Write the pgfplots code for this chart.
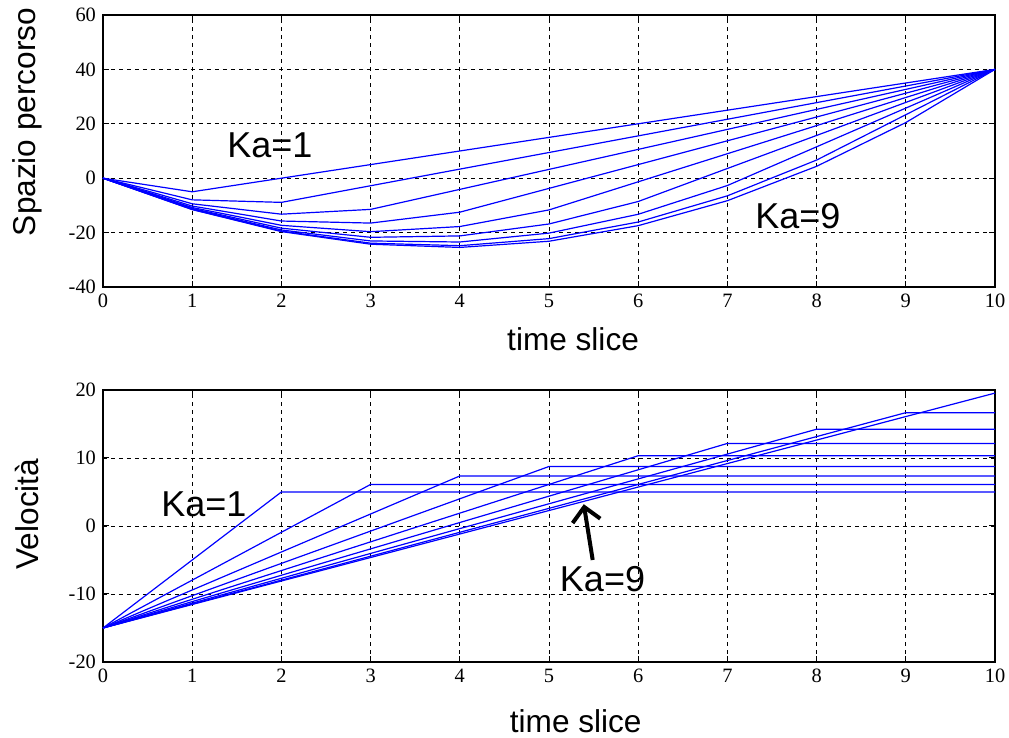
\documentclass[border=0pt]{standalone}
\usepackage{pgfplots}
\pgfplotsset{compat=1.18}
\usepackage{fontspec}
\setmainfont{Liberation Serif}
\newfontfamily\arial{Liberation Sans}
\usetikzlibrary{arrows.meta}

\tikzset{ka/.style={font=\arial\fontsize{18}{20}\selectfont, anchor=base, inner sep=0pt}}

\pgfplotsset{
  mplot/.style={
    scale only axis, width=446pt, height=136pt,
    xmin=0, xmax=10, xtick={0,1,...,10},
    grid=major,
    major grid style={black, dash pattern=on 2pt off 2pt, line width=0.45pt},
    axis line style={black, line width=0.75pt},
    tick align=inside, major tick length=3pt,
    tick style={black, line width=0.5pt},
    tick label style={font=\fontsize{10.2}{11}\selectfont},
    /pgf/number format/assume math mode=true,
    label style={font=\arial\fontsize{15.8}{18}\selectfont},
    every axis plot post/.append style={blue, solid, mark=none, line width=0.6pt},
  },
}

\begin{document}
\begin{tikzpicture}
\useasboundingbox (0,0) rectangle (504.5pt,369pt);

% position
\begin{axis}[mplot,
  at={(51.5pt,225.5pt)}, anchor=south west,
  ymin=-40, ymax=60, ytick={-40,-20,...,60},
  xlabel={time slice}, ylabel={Spazio percorso},
  xlabel style={at={(axis description cs:0.527,-0.232)}, anchor=base},
  ylabel style={at={(axis description cs:-0.085,0.607)}, anchor=center},
]
\addplot coordinates {(0,0)(1,-5)(2,0)(3,5)(4,10)(5,15)(6,20)(7,25)(8,30)(9,35)(10,40)};
\addplot coordinates {(0,0)(1,-7.963)(2,-8.889)(3,-2.778)(4,3.333)(5,9.444)(6,15.556)(7,21.667)(8,27.778)(9,33.889)(10,40)};
\addplot coordinates {(0,0)(1,-9.412)(2,-13.235)(3,-11.471)(4,-4.118)(5,3.235)(6,10.588)(7,17.941)(8,25.294)(9,32.647)(10,40)};
\addplot coordinates {(0,0)(1,-10.25)(2,-15.75)(3,-16.5)(4,-12.5)(5,-3.75)(6,5)(7,13.75)(8,22.5)(9,31.25)(10,40)};
\addplot coordinates {(0,0)(1,-10.778)(2,-17.333)(3,-19.667)(4,-17.778)(5,-11.667)(6,-1.333)(7,9)(8,19.333)(9,29.667)(10,40)};
\addplot coordinates {(0,0)(1,-11.122)(2,-18.367)(3,-21.735)(4,-21.224)(5,-16.837)(6,-8.571)(7,3.571)(8,15.714)(9,27.857)(10,40)};
\addplot coordinates {(0,0)(1,-11.346)(2,-19.038)(3,-23.077)(4,-23.462)(5,-20.192)(6,-13.269)(7,-2.692)(8,11.538)(9,25.769)(10,40)};
\addplot coordinates {(0,0)(1,-11.481)(2,-19.444)(3,-23.889)(4,-24.815)(5,-22.222)(6,-16.111)(7,-6.481)(8,6.667)(9,23.333)(10,40)};
\addplot coordinates {(0,0)(1,-11.545)(2,-19.636)(3,-24.273)(4,-25.455)(5,-23.182)(6,-17.455)(7,-8.273)(8,4.364)(9,20.455)(10,40)};
\node[ka] at (axis cs:1.87,7.7) {Ka=1};
\node[ka] at (axis cs:7.79,-18.4) {Ka=9};
\end{axis}

% velocity
\begin{axis}[mplot,
  at={(51.5pt,38pt)}, anchor=south west,
  ymin=-20, ymax=20, ytick={-20,-10,...,20},
  xlabel={time slice}, ylabel={Velocità},
  xlabel style={at={(axis description cs:0.53,-0.261)}, anchor=base},
  ylabel style={at={(axis description cs:-0.085,0.544)}, anchor=center},
]
\addplot coordinates {(0,-15)(1,-5)(2,5)(10,5)};
\addplot coordinates {(0,-15)(1,-7.963)(2,-0.926)(3,6.111)(10,6.111)};
\addplot coordinates {(0,-15)(1,-9.412)(2,-3.824)(3,1.765)(4,7.353)(10,7.353)};
\addplot coordinates {(0,-15)(1,-10.25)(2,-5.5)(3,-0.75)(4,4)(5,8.75)(10,8.75)};
\addplot coordinates {(0,-15)(1,-10.778)(2,-6.556)(3,-2.333)(4,1.889)(5,6.111)(6,10.333)(10,10.333)};
\addplot coordinates {(0,-15)(1,-11.122)(2,-7.245)(3,-3.367)(4,0.510)(5,4.388)(6,8.265)(7,12.143)(10,12.143)};
\addplot coordinates {(0,-15)(1,-11.346)(2,-7.692)(3,-4.038)(4,-0.385)(5,3.269)(6,6.923)(7,10.577)(8,14.231)(10,14.231)};
\addplot coordinates {(0,-15)(1,-11.481)(2,-7.963)(3,-4.444)(4,-0.926)(5,2.593)(6,6.111)(7,9.630)(8,13.148)(9,16.667)(10,16.667)};
\addplot coordinates {(0,-15)(1,-11.545)(2,-8.091)(3,-4.636)(4,-1.182)(5,2.273)(6,5.727)(7,9.182)(8,12.636)(9,16.091)(10,19.545)};
\node[ka] at (axis cs:1.13,1.37) {Ka=1};
\node[ka] at (axis cs:5.6,-9.66) {Ka=9};
\draw[black, line width=2pt, -{Straight Barb[length=7pt, width=14pt, line width=2pt]}]
  (axis cs:5.49,-5.0) -- (axis cs:5.39,3.2);
\end{axis}
\end{tikzpicture}
\end{document}
